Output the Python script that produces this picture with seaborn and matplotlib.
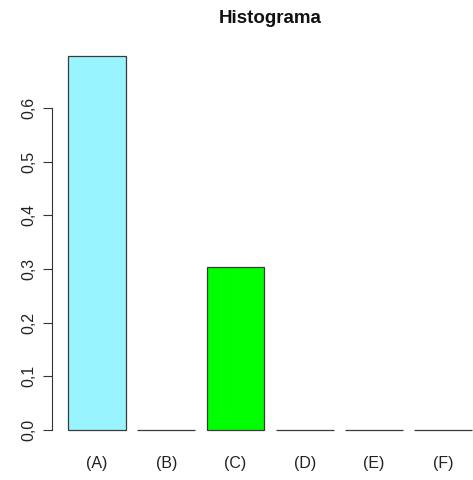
import matplotlib
matplotlib.use("Agg")
import matplotlib.pyplot as plt
import seaborn as sns

categorias = ["(A)", "(B)", "(C)", "(D)", "(E)", "(F)"]
frecuencias = [0.697, 0.0, 0.303, 0.0, 0.0, 0.0]
colores = ["#98F5FF", "#FFFFFF", "#00FF00", "#FFFFFF", "#FFFFFF", "#FFFFFF"]
yticks = [0.0, 0.1, 0.2, 0.3, 0.4, 0.5, 0.6]
ytick_labels = ["0,0", "0,1", "0,2", "0,3", "0,4", "0,5", "0,6"]

sns.set_style("white")
plt.rcParams["font.family"] = ["Liberation Sans", "DejaVu Sans"]

fig = plt.figure(figsize=(4.73, 4.8), dpi=100)
ax = fig.add_axes([0.110, 0.073, 0.922, 0.842])

sns.barplot(x=categorias, y=frecuencias, hue=categorias, palette=colores,
            legend=False, width=1 / 1.2, edgecolor="#3a3a3a", linewidth=0.9,
            saturation=1, ax=ax)

ax.set_xlim(-0.65, 5.65)
ax.set_ylim(-0.0279, 0.725)
ax.set_yticks(yticks)
ax.set_yticklabels(ytick_labels, rotation=90, va="center", fontsize=11.5, color="#222222")
ax.tick_params(axis="y", left=True, length=6.5, width=0.8, color="#333333", pad=5)
ax.tick_params(axis="x", bottom=False, length=0, pad=8, labelsize=11.5, labelcolor="#222222")

for s in ["top", "right", "bottom"]:
    ax.spines[s].set_visible(False)
ax.spines["left"].set_bounds(0, 0.6)
ax.spines["left"].set_color("#333333")
ax.spines["left"].set_linewidth(0.8)
ax.set_xlabel("")
ax.set_ylabel("")

fig.text(0.571, 0.962, "Histograma", ha="center", va="center",
         fontsize=13.5, fontweight="bold", color="#111111")

fig.savefig("out.png", dpi=100)
